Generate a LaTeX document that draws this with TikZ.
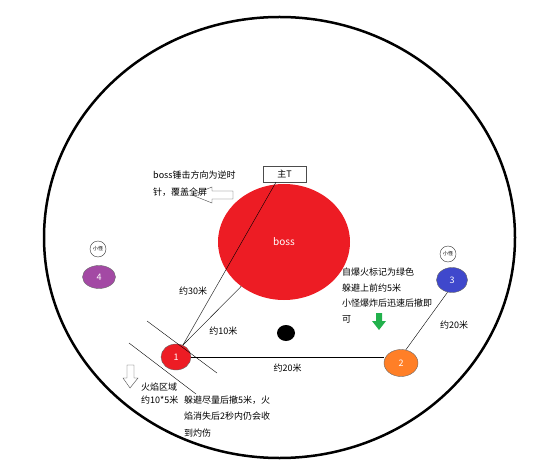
\documentclass[tikz,border=0pt]{standalone}
\usepackage{fontspec}
\setmainfont{Noto Sans CJK SC}
\usepackage{xcolor}
\usepackage{tikz}
\usetikzlibrary{shapes,positioning,calc}
\definecolor{pred}{RGB}{237,28,36}
\definecolor{porange}{RGB}{255,127,39}
\definecolor{pblue}{RGB}{63,72,204}
\definecolor{ppurple}{RGB}{163,73,164}
\definecolor{pgreen}{RGB}{34,177,76}

\begin{document}
\begin{tikzpicture}[
			x = 1pt, y = -1pt,
			every node/.style = {font = \fontsize{9}{16}\selectfont},
			unit/.style = {ellipse, draw = black!60, thin, inner sep = 0, text = white},
			mob/.style = {circle, draw = black!80, thin, inner sep = 0, minimum size = 16, font = \fontsize{5}{6}\selectfont},
			note/.style = {anchor = west, align = left, inner sep = 0}]

			\useasboundingbox (0,0) rectangle (540,462);
			\draw[line width = 2.5] (279.5,237.5) ellipse [x radius = 235.5, y radius = 220.5];

			\node[ellipse, fill = pred, inner sep = 0, minimum width = 132, minimum height = 116, text = white, font = \fontsize{10}{12}\selectfont] (boss) at (284,242) {boss};
			\node[draw = black!70, thin, inner sep = 0, minimum width = 43, minimum height = 16] (mainT) at (284.5,174) {主T};
			\node[ellipse, fill = black, inner sep = 0, minimum width = 18, minimum height = 16] (dot) at (286,333) {};

			\node[unit, fill = pred, minimum width = 30, minimum height = 26] (p1) at (176,357) {1};
			\node[unit, fill = porange, minimum width = 34, minimum height = 27] (p2) at (401,363) {2};
			\node[unit, fill = pblue, minimum width = 31, minimum height = 25] (p3) at (452,280) {3};
			\node[unit, fill = ppurple, minimum width = 33, minimum height = 23] (p4) at (99,277) {4};
			\node[mob] (m3) at (448,254) {小怪};
			\node[mob] (m4) at (98,249) {小怪};

			\draw[thin] ($(mainT.south)+(-8.5,0)$) -- (p1.60) node[pos = 0.67, left = 3pt] {约30米};
			\draw[thin] (boss.-134) -- (p1.60) node[pos = 0.76, right = 9pt] {约10米};
			\draw[thin] (p1.east) -- (p2.west |- p1.east) node[midway, below = 3pt] {约20米};
			\draw[thin] (p2.70) -- (p3.-110) node[midway, right = 10pt, yshift = -4pt] {约20米};

			\draw[thin] (147,321) -- (217,373);
			\draw[thin] (129,343) -- (196,394);

			\draw[thin, draw = black!70, fill = white] (192,195) -- (212,187) -- (212,191) -- (233,191) -- (233,199) -- (212,199) -- (212,203) -- cycle;
			\draw[thin, draw = black!70, fill = white] (130,388) -- (123,378) -- (127,378) -- (127,365) -- (134,365) -- (134,378) -- (138,378) -- cycle;
			\fill[pgreen] (379,330) -- (372,321) -- (376,321) -- (376,313) -- (382,313) -- (382,321) -- (386,321) -- cycle;

			\node[note, font = \fontsize{9}{17}\selectfont] (bossnote) at (153,183.5) {boss锤击方向为逆时\\针，覆盖全屏};
			\node[note, font = \fontsize{9}{15.5}\selectfont] (bombnote) at (342,295.5) {自爆火标记为绿色\\躲避上前约5米\\小怪爆炸后迅速后撤即\\可};
			\node[note, font = \fontsize{9}{13}\selectfont] (firenote) at (141,393.5) {火焰区域\\约10*5米};
			\node[note, font = \fontsize{9}{16.5}\selectfont] (dodgenote) at (184,416.5) {躲避尽量后撤5米，火\\焰消失后2秒内仍会收\\到灼伤};

		\end{tikzpicture}
\end{document}
